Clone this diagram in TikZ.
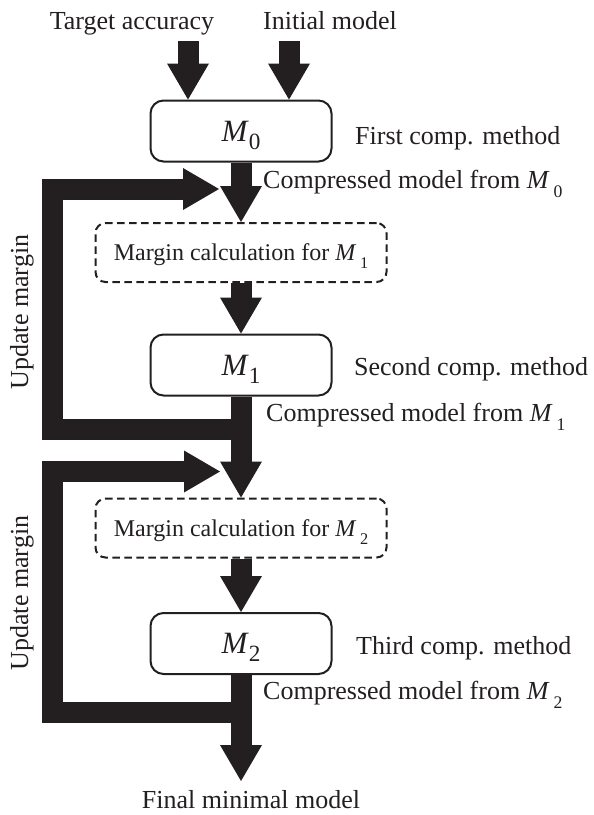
\documentclass[tikz,border=0pt]{standalone}
\usepackage{fontspec}
\setmainfont{Liberation Serif}
\usepackage{graphicx}
\usetikzlibrary{arrows.meta,calc}
\definecolor{ink}{RGB}{35,31,32}
% italic M with a subscript, inside the boxes and in the running labels
\newcommand\boxM[1]{\textit{M}\raisebox{-0.27em}{\scalebox{0.75}{#1}}}
\newcommand\lblM[1]{\textit{M}\kern0.15em\raisebox{-0.35em}{\scalebox{0.68}{#1}}}

\begin{document}
\begin{tikzpicture}[x=1pt,y=-1pt,
  lbl/.style={font=\fontsize{26}{30}\selectfont, text=ink, inner sep=0pt},
  method/.style={draw=ink, line width=2pt, rounded corners=13pt,
    minimum width=181pt, minimum height=61pt, inner sep=0pt,
    text height=20pt, text depth=0pt, text=ink,
    font=\fontsize{31}{34}\selectfont},
  marginbox/.style={draw=ink, line width=2pt, dash pattern=on 7.5pt off 4.5pt,
    rounded corners=10pt, minimum width=291pt, minimum height=59pt,
    inner sep=0pt, text height=16pt, text depth=0pt, text=ink,
    font=\fontsize{24}{28}\selectfont},
  fat/.style={draw=ink, line width=21pt, line join=miter,
    -{Triangle[length=36pt,width=42pt,line width=0pt]}},
]
\useasboundingbox (0,0) rectangle (594,815);

% inputs
\node[lbl, anchor=base] (target)  at (132,29) {Target accuracy};
\node[lbl, anchor=base] (initial) at (330,29) {Initial model};

% compression stages
\node[method]    (M0)  at (241,131)   {\boxM{0}};
\node[marginbox] (mc1) at (241,252.5) {Margin calculation for \lblM{1}};
\node[method]    (M1)  at (241,365)   {\boxM{1}};
\node[marginbox] (mc2) at (241,528)   {Margin calculation for \lblM{2}};
\node[method]    (M2)  at (241,643.5) {\boxM{2}};

% side labels
\node[lbl, anchor=base west] (first)  at (355,144) {First comp. method};
\node[lbl, anchor=base west] (second) at (354,375) {Second comp. method};
\node[lbl, anchor=base west] (third)  at (356,654) {Third comp. method};
\node[lbl, anchor=base west] (cm0) at (263,188) {Compressed model from \lblM{0}};
\node[lbl, anchor=base west] (cm1) at (266,421) {Compressed model from \lblM{1}};
\node[lbl, anchor=base west] (cm2) at (263,699) {Compressed model from \lblM{2}};
\node[lbl, anchor=base] (final) at (251,808) {Final minimal model};
\node[lbl, rotate=90] (upd1) at (22,312) {Update margin};
\node[lbl, rotate=90] (upd2) at (22,593) {Update margin};

% helper points
\coordinate (tA) at ($(M0.north)+(-53,0)$);
\coordinate (tB) at ($(M0.north)+(48,0)$);
\coordinate (rail) at (52,300);
\coordinate (j1) at ($(M1.south)+(0,33)$);
\coordinate (f1) at ($(mc1.north)+(-22,-33)$);
\coordinate (j2) at ($(M2.south)+(0,37)$);
\coordinate (f2) at ($(mc2.north)+(-21,-26)$);
\coordinate (out) at ($(M2.south)+(0,106)$);

% input arrows
\draw[fat] ($(tA |- target.base)+(0,12)$) -- (tA);
\draw[fat] ($(tB |- initial.base)+(0,12)$) -- (tB);

% main flow
\draw[fat] (M0.south) -- (mc1.north);
\draw[fat] (mc1.south) -- (M1.north);
\draw[fat] (M1.south) -- (mc2.north);
\draw[fat] (mc2.south) -- (M2.north);
\draw[fat] (M2.south) -- (out);

% margin feedback loops
\draw[fat] (j1) -- (j1 -| rail) |- (f1);
\draw[fat] (j2) -- (j2 -| rail) |- (f2);
\end{tikzpicture}
\end{document}
